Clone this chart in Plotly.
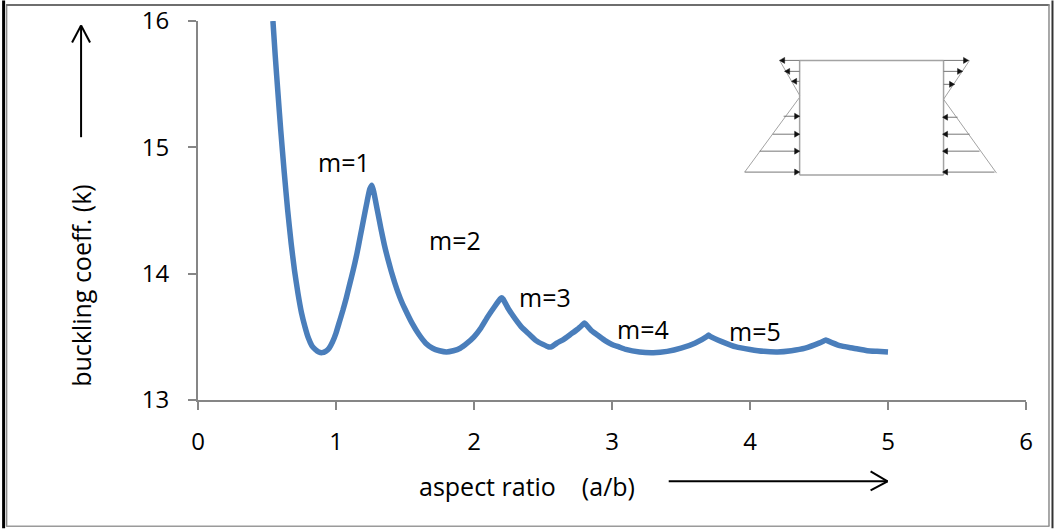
import plotly.graph_objects as go

W, H = 1055, 529
X0, X1, Y0, Y1 = 198.0, 1026.5, 20.5, 400.5

aspect_ratio = [0.543,0.56,0.58,0.60,0.625,0.65,0.675,0.70,0.725,0.75,0.775,0.80,0.825,0.85,0.875,0.90,
                0.925,0.95,0.975,1.0,1.025,1.05,1.075,1.10,1.125,1.15,1.175,1.20,1.225,1.245,1.26,
                1.275,1.30,1.325,1.35,1.375,1.40,1.425,1.45,1.475,1.50,1.55,1.60,1.65,1.70,1.75,1.80,1.85,1.90,1.95,
                2.0,2.05,2.10,2.15,2.19,2.20,2.21,2.25,2.30,2.35,2.40,2.45,2.50,2.54,2.56,2.60,2.65,2.70,2.75,2.79,2.80,2.81,
                2.85,2.90,2.95,3.0,3.05,3.10,3.20,3.30,3.40,3.50,3.60,3.69,3.70,3.71,3.80,3.90,4.0,4.10,4.20,4.30,4.40,4.50,
                4.54,4.55,4.56,4.65,4.75,4.85,4.92,5.0]
buckling_k = [16.00,15.72,15.42,15.13,14.80,14.50,14.24,14.02,13.84,13.69,13.58,13.49,13.43,13.40,13.38,13.375,
              13.385,13.41,13.46,13.53,13.62,13.71,13.81,13.92,14.03,14.15,14.29,14.43,14.57,14.67,14.70,
              14.64,14.50,14.36,14.23,14.12,14.02,13.93,13.85,13.78,13.72,13.61,13.52,13.45,13.41,13.39,13.38,13.39,13.41,13.45,
              13.50,13.57,13.66,13.74,13.80,13.81,13.80,13.72,13.64,13.57,13.52,13.47,13.44,13.42,13.42,13.45,13.48,13.52,13.56,13.60,13.61,13.60,
              13.55,13.51,13.47,13.44,13.42,13.40,13.38,13.375,13.385,13.41,13.45,13.505,13.515,13.505,13.46,13.42,13.40,13.385,13.38,13.39,13.41,13.45,
              13.47,13.475,13.47,13.43,13.41,13.39,13.385,13.38]
x_ticks = [0, 1, 2, 3, 4, 5, 6]
y_ticks = [13, 14, 15, 16]
mode_labels = ["m=1", "m=2", "m=3", "m=4", "m=5"]
mode_label_px = [(344, 162), (455, 240), (545, 297), (643, 329), (755, 331)]

FONT = "Open Sans"
def px(x): return (x - X0) / (X1 - X0)
def py(y): return (Y1 - y) / (Y1 - Y0)

def line(x0, y0, x1, y1, color, width):
    return dict(type="line", xref="paper", yref="paper", x0=px(x0), y0=py(y0), x1=px(x1), y1=py(y1),
                line=dict(color=color, width=width))

def tri(points, color="#111111"):
    d = "M" + " L".join(f"{px(a):.5f},{py(b):.5f}" for a, b in points) + " Z"
    return dict(type="path", xref="paper", yref="paper", path=d, fillcolor=color, line=dict(color=color, width=0.5))

shapes = [
    line(3.5, 0, 3.5, H, "#000000", 3),
    line(6.5, 4, 6.5, 527, "#8c8c8c", 1.5),
    line(6, 4.5, 1050, 4.5, "#6e6e6e", 2),
    line(6, 527, 1050, 527, "#9a9a9a", 1.5),
    line(1049.5, 4, 1049.5, 527, "#8c8c8c", 1.5),
    line(1053, 0, 1053, H, "#333333", 2),
    # hand-drawn arrows
    line(81, 137, 81, 25, "#000000", 2),
    line(72, 42, 81, 25, "#000000", 2),
    line(90, 42, 81, 25, "#000000", 2),
    line(669, 482, 888, 482, "#000000", 2),
    line(871, 472, 888, 482, "#000000", 2),
    line(871, 491, 888, 482, "#000000", 2),
]

G = "#a3a3a3"
# inset plate
shapes += [
    line(800, 60, 944, 60, G, 1.5), line(800, 60, 800, 175, G, 1.5),
    line(944, 60, 944, 175, G, 1.5), line(800, 175, 944, 175, G, 1.5),
    line(780, 60, 800, 95, G, 1), line(970, 60, 944, 99, G, 1),
    line(800, 97, 745, 172, G, 1), line(944, 99, 997, 173, G, 1),
]
for y, a in [(60, 780), (71, 785), (81, 792)]:
    shapes += [line(800, y, a, y, "#777777", 1), tri([(a, y), (a + 5, y - 3), (a + 5, y + 3)])]
for y, a in [(60, 969), (71, 963), (84, 955)]:
    shapes += [line(944, y, a, y, "#777777", 1), tri([(a, y), (a - 5, y - 3), (a - 5, y + 3)])]
for y, a in [(116, 784), (134, 773), (151, 760), (172, 745)]:
    shapes += [line(a, y, 800, y, "#777777", 1), tri([(800, y), (795, y - 3), (795, y + 3)])]
for y, a in [(117, 958), (134, 970), (151, 980), (172, 995)]:
    shapes += [line(a, y, 944, y, "#777777", 1), tri([(943, y), (948, y - 3), (948, y + 3)])]

annotations = [
    dict(xref="paper", yref="paper", x=px(a), y=py(b), text=t, showarrow=False,
         font=dict(family=FONT, size=25, color="#000000"), xanchor="center", yanchor="middle")
    for t, (a, b) in zip(mode_labels, mode_label_px)
]
annotations += [
    dict(xref="paper", yref="paper", x=px(81), y=py(286), text="buckling coeff. (k)", textangle=-90, showarrow=False,
         font=dict(family=FONT, size=25, color="#000000"), xanchor="center", yanchor="middle"),
    dict(xref="paper", yref="paper", x=px(527), y=py(487), text="aspect ratio&nbsp;&nbsp;&nbsp;&nbsp;(a/b)", showarrow=False,
         font=dict(family=FONT, size=25, color="#000000"), xanchor="center", yanchor="middle"),
]

axis = dict(showgrid=False, zeroline=False, showline=True, linecolor="#868686", linewidth=2,
            ticks="outside", ticklen=8, tickwidth=2, tickcolor="#868686", automargin=False,
            tickfont=dict(family=FONT, size=24, color="#000000"))

fig = go.Figure(go.Scatter(x=aspect_ratio, y=buckling_k, mode="lines",
                           line=dict(color="#4a7ebb", width=5.5, shape="spline", smoothing=0.5, simplify=False)))
fig.update_layout(
    width=W, height=H, showlegend=False, paper_bgcolor="white", plot_bgcolor="white",
    margin=dict(l=X0, r=W - X1, t=Y0, b=H - Y1),
    xaxis=dict(axis, range=[0, 6], tickvals=x_ticks, ticklabelstandoff=11),
    yaxis=dict(axis, range=[13, 16], tickvals=y_ticks, ticklabelstandoff=14),
    shapes=shapes, annotations=annotations,
)
fig.write_html("out.html", config=dict(displayModeBar=False),
               post_script="document.body.style.margin='0';document.body.style.overflow='hidden';")
